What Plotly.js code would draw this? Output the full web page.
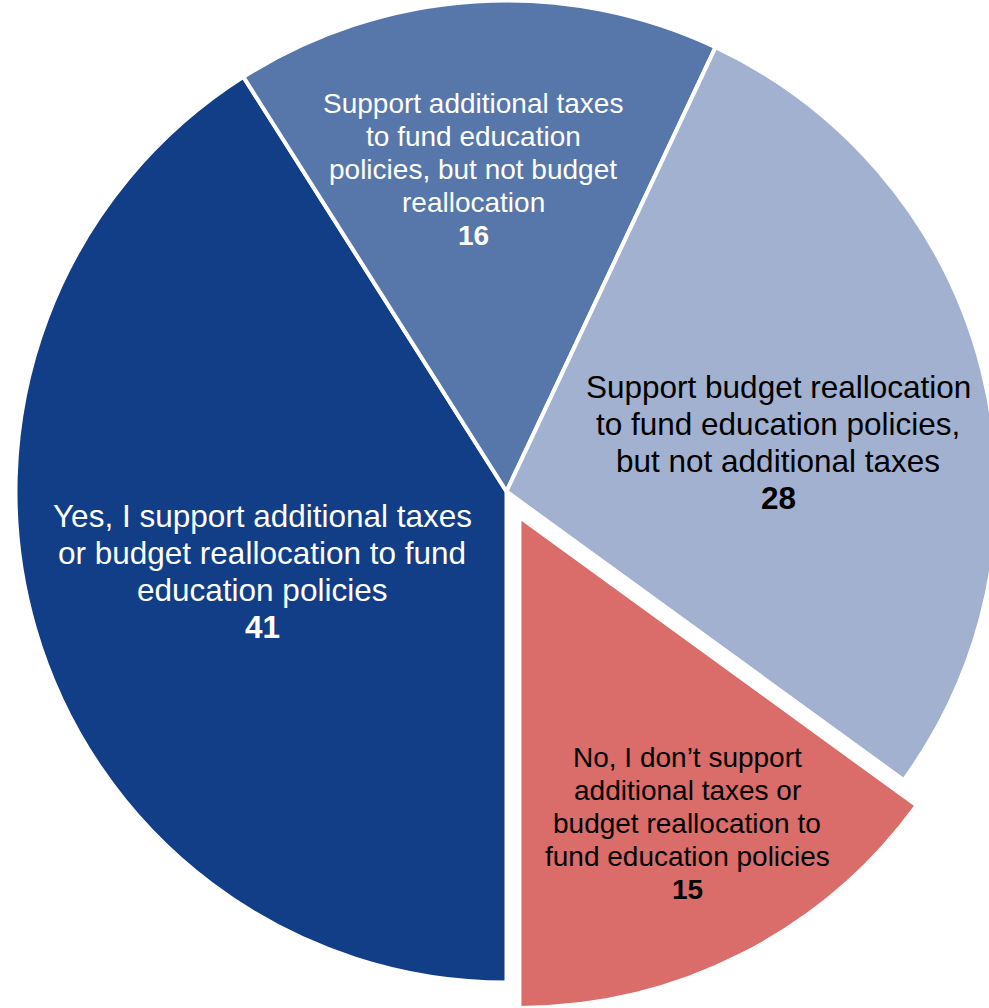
<!DOCTYPE html>
<html>
<head>
<meta charset="utf-8">
<script src="https://cdn.plot.ly/plotly-3.0.1.min.js"></script>
<style>
  html, body { margin: 0; padding: 0; width: 989px; height: 1008px; overflow: hidden; background: #ffffff; }
  #chart { position: absolute; left: -13px; top: -28px; width: 1039px; height: 1039px; }
</style>
</head>
<body>
<div id="chart"></div>
<script>
// ---- Data ----
const categories = [
  "Yes, I support additional taxes or budget reallocation to fund education policies",
  "Support additional taxes to fund education policies, but not budget reallocation",
  "Support budget reallocation to fund education policies, but not additional taxes",
  "No, I don’t support additional taxes or budget reallocation to fund education policies"
];
const values = [41, 16, 28, 15];
// label text as broken into lines in the reference
const labelLines = [
  ["Yes, I support additional taxes", "or budget reallocation to fund", "education policies"],
  ["Support additional taxes", "to fund education", "policies, but not budget", "reallocation"],
  ["Support budget reallocation", "to fund education policies,", "but not additional taxes"],
  ["No, I don’t support", "additional taxes or", "budget reallocation to", "fund education policies"]
];

// ---- Styling ----
const colors = ["#123e87", "#5777ab", "#a1b1cf", "#da6c6a"];
const pulls = [0, 0, 0, 0.058];
const textColors = ["#ffffff", "#ffffff", "#000000", "#000000"];
const fontSizes = [31.5, 28, 31.5, 28];
const lineGaps = [37, 32.8, 37, 33];
// label anchor (window px): centre x, first-line y
const labelPos = [[262, 516], [473, 104], [778, 387], [687, 757]];

const DIV_LEFT = -13, DIV_TOP = -28, DIV_W = 1039, DIV_H = 1039;
const px2x = px => (px - DIV_LEFT) / DIV_W;
const px2y = py => 1 - (py - DIV_TOP) / DIV_H;

const annotations = [];
labelLines.forEach((lines, i) => {
  const all = lines.concat(["<b>" + values[i] + "</b>"]);
  all.forEach((t, k) => {
    annotations.push({
      text: t,
      xref: "paper", yref: "paper",
      x: px2x(labelPos[i][0]),
      y: px2y(labelPos[i][1] + k * lineGaps[i]),
      xanchor: "center", yanchor: "middle",
      showarrow: false,
      font: { family: "Liberation Sans, Arial, sans-serif", size: fontSizes[i], color: textColors[i] }
    });
  });
});

const trace = {
  type: "pie",
  labels: categories,
  values: values,
  sort: false,
  direction: "clockwise",
  rotation: 180,
  pull: pulls,
  textinfo: "none",
  hoverinfo: "label+value",
  marker: { colors: colors, line: { color: "#ffffff", width: 4 } },
  showlegend: false
};

const layout = {
  width: DIV_W, height: DIV_H,
  margin: { l: 0, r: 0, t: 0, b: 0, pad: 0 },
  paper_bgcolor: "#ffffff",
  plot_bgcolor: "#ffffff",
  showlegend: false,
  annotations: annotations
};

Plotly.newPlot("chart", [trace], layout, { displayModeBar: false, staticPlot: true });
</script>
</body>
</html>
